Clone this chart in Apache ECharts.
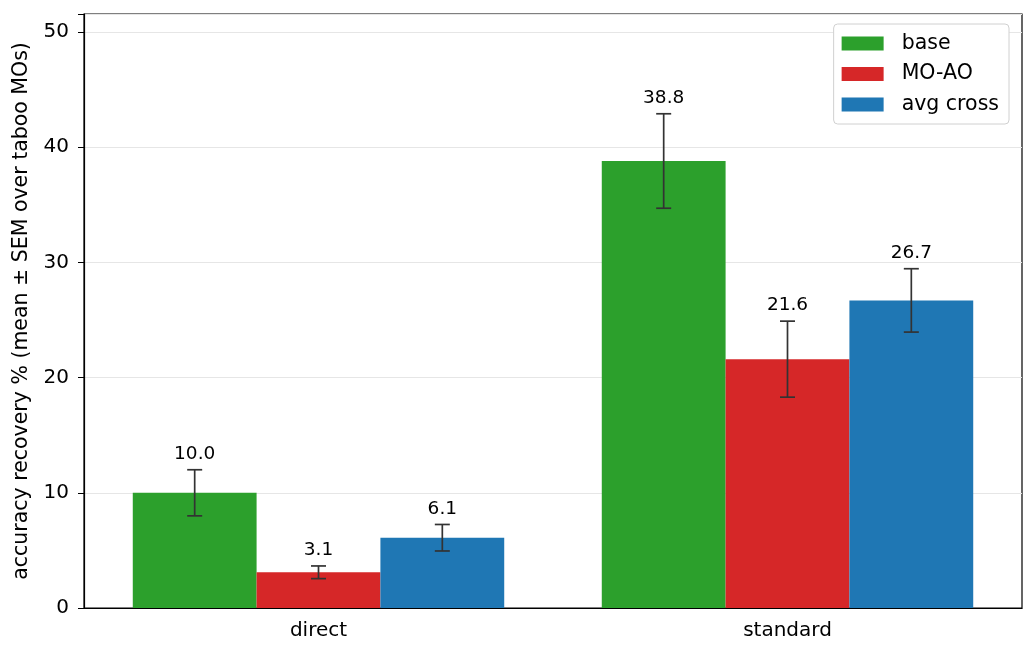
<!DOCTYPE html>
<html>
<head>
<meta charset="utf-8">
<script src="https://cdn.jsdelivr.net/npm/echarts@6/dist/echarts.min.js"></script>
<style>
  html, body { margin: 0; padding: 0; background: #fff; }
  #chart { width: 1034px; height: 657px; }
</style>
</head>
<body>
<div id="chart"></div>
<script>
var categories = ['direct', 'standard'];
var seriesNames = ['base', 'MO-AO', 'avg cross'];
var baseMean = [10.0, 38.8];
var baseSem = [2.0, 4.1];
var moaoMean = [3.1, 21.6];
var moaoSem = [0.55, 3.3];
var crossMean = [6.1, 26.7];
var crossSem = [1.15, 2.75];
var colors = ['#2ca02c', '#d62728', '#1f77b4'];

var FONT = 'DejaVu Sans';
var BAR_FRAC = 0.264;

function errData(mean, sem) {
    var out = [];
    for (var i = 0; i < mean.length; i++) {
        out.push([i, mean[i], sem[i]]);
    }
    return out;
}

function errSeries(k, mean, sem) {
    return {
        name: 'err' + k,
        type: 'custom',
        z: 10,
        encode: { x: 0, y: 1 },
        data: errData(mean, sem),
        renderItem: function (params, api) {
            var c = api.value(0), m = api.value(1), s = api.value(2);
            var band = api.size([1, 0])[0];
            var dx = (k - 1) * band * BAR_FRAC;
            var top = api.coord([c, m + s]);
            var bot = api.coord([c, m - s]);
            var x = top[0] + dx;
            var st = { stroke: '#333333', lineWidth: 1.7 };
            return {
                type: 'group',
                children: [
                    { type: 'line', shape: { x1: x, y1: top[1], x2: x, y2: bot[1] }, style: st },
                    { type: 'line', shape: { x1: x - 7.5, y1: top[1], x2: x + 7.5, y2: top[1] }, style: st },
                    { type: 'line', shape: { x1: x - 7.5, y1: bot[1], x2: x + 7.5, y2: bot[1] }, style: st },
                    {
                        type: 'text',
                        style: {
                            x: x, y: top[1] - 6,
                            text: m.toFixed(1),
                            fill: '#000',
                            font: '18.5px "DejaVu Sans"',
                            align: 'center',
                            verticalAlign: 'bottom'
                        }
                    }
                ]
            };
        }
    };
}

function barSeries(k, mean) {
    return {
        name: seriesNames[k],
        type: 'bar',
        data: mean,
        barWidth: (BAR_FRAC * 100) + '%',
        barGap: '0%',
        itemStyle: { color: colors[k] }
    };
}

var chart = echarts.init(document.getElementById('chart'));

var option = {
    animation: false,
    textStyle: { fontFamily: FONT },
    grid: {
        left: 84, right: 12, top: 14, bottom: 49,
        show: true, borderColor: '#000', borderWidth: 1.2,
        backgroundColor: 'transparent'
    },
    legend: {
        data: seriesNames,
        orient: 'vertical',
        right: 25,
        top: 24,
        icon: 'rect',
        itemWidth: 42,
        itemHeight: 14,
        itemGap: 9.5,
        padding: [9, 10, 9, 8],
        backgroundColor: '#fff',
        borderColor: '#d0d0d0',
        borderWidth: 1,
        borderRadius: 4,
        textStyle: { fontFamily: FONT, fontSize: 20.5, color: '#000', padding: [0, 0, 0, 13] }
    },
    xAxis: {
        type: 'category',
        data: categories,
        axisLine: { lineStyle: { color: '#000', width: 1.2 } },
        axisTick: { alignWithLabel: true, length: 6, lineStyle: { color: '#000' } },
        axisLabel: { color: '#000', fontSize: 20, fontFamily: FONT, margin: 13 },
        splitLine: { show: false }
    },
    yAxis: {
        type: 'value',
        min: 0,
        max: 51.56,
        interval: 10,
        name: 'accuracy recovery % (mean ± SEM over taboo MOs)',
        nameLocation: 'middle',
        nameGap: 47,
        nameTextStyle: { color: '#000', fontSize: 20.5, fontFamily: FONT },
        axisLine: { show: true, lineStyle: { color: '#000', width: 1.2 } },
        axisTick: { show: true, length: 6, lineStyle: { color: '#000' } },
        axisLabel: {
            color: '#000', fontSize: 20, fontFamily: FONT, margin: 15,
            formatter: function (v) { return (v % 10 === 0) ? String(v) : ''; }
        },
        splitLine: { show: true, lineStyle: { color: '#e6e6e6', width: 1.2 } }
    },
    series: [
        barSeries(0, baseMean),
        barSeries(1, moaoMean),
        barSeries(2, crossMean),
        errSeries(0, baseMean, baseSem),
        errSeries(1, moaoMean, moaoSem),
        errSeries(2, crossMean, crossSem)
    ]
};

chart.setOption(option);
</script>
</body>
</html>
